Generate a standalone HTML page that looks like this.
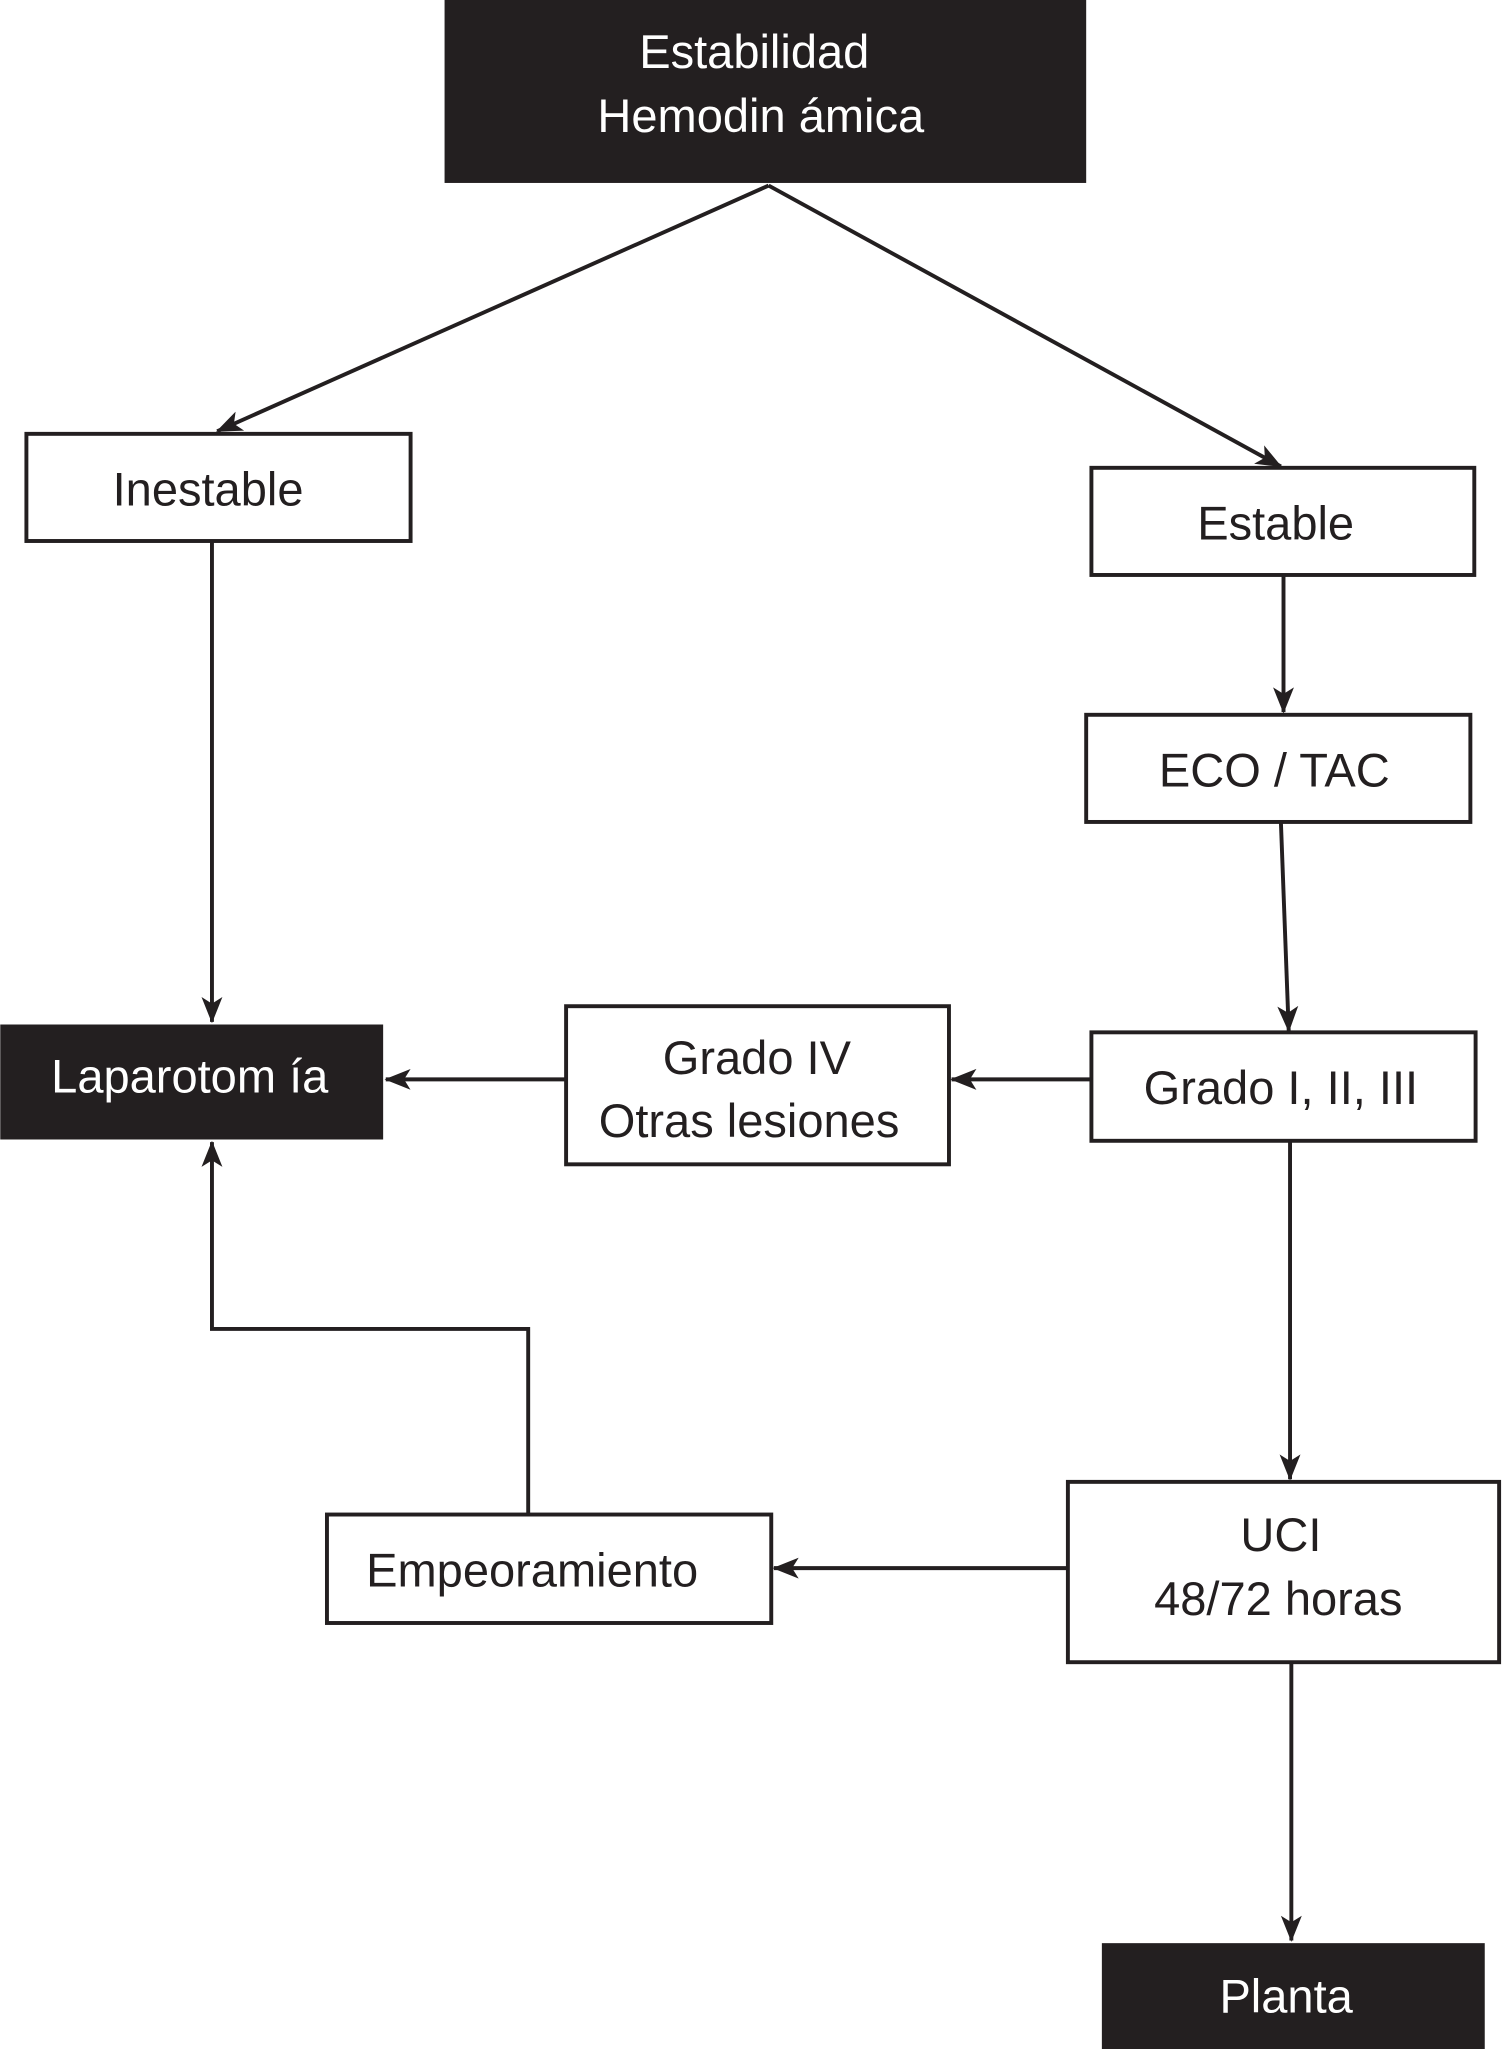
<!DOCTYPE html>
<html><head><meta charset="utf-8">
<style>
html,body{margin:0;padding:0;background:#fff;}
svg{display:block;}
text{font-family:"Liberation Sans",sans-serif;font-size:36px;text-anchor:middle;}
</style></head>
<body>
<svg width="1502" height="2049" viewBox="0 0 1149 1568" xmlns="http://www.w3.org/2000/svg">
<defs>
<marker id="a" viewBox="0 0 20 20" refX="19" refY="10" markerWidth="20" markerHeight="20" markerUnits="userSpaceOnUse" orient="auto">
<path d="M0,2 L20,10 L0,18 L5,10 Z" fill="#231f20"/>
</marker>
</defs>
<g fill="#231f20">
<rect x="340" y="0" width="491" height="140"/>
<rect x="0" y="784" width="293" height="88"/>
<rect x="843" y="1487" width="293" height="81"/>
</g>
<g fill="#fff" stroke="#231f20" stroke-width="3">
<rect x="20" y="332" width="294" height="82"/>
<rect x="835" y="358" width="293" height="82"/>
<rect x="831" y="547" width="294" height="82"/>
<rect x="433" y="770" width="293" height="121"/>
<rect x="835" y="790" width="294" height="83"/>
<rect x="250" y="1159" width="340" height="83"/>
<rect x="817" y="1134" width="330" height="138"/>
</g>
<g stroke="#231f20" stroke-width="3" fill="none" marker-end="url(#a)">
<line x1="588" y1="142" x2="166" y2="330"/>
<line x1="588" y1="142" x2="980" y2="357"/>
<line x1="162" y1="414" x2="162" y2="782"/>
<line x1="982" y1="440" x2="982" y2="545"/>
<line x1="980" y1="629" x2="986" y2="789"/>
<line x1="835" y1="826" x2="728" y2="826"/>
<line x1="433" y1="826" x2="295" y2="826"/>
<line x1="987" y1="873" x2="987" y2="1132"/>
<line x1="817" y1="1200" x2="592" y2="1200"/>
<polyline points="404,1159 404,1017 162,1017 162,874"/>
<line x1="988" y1="1272" x2="988" y2="1485"/>
</g>
<g fill="#fff">
<text x="577" y="52">Estabilidad</text>
<text x="582" y="101">Hemodin ámica</text>
<text x="145" y="836">Laparotom  ía</text>
<text x="984" y="1540">Planta</text>
</g>
<g fill="#231f20">
<text x="159" y="387">Inestable</text>
<text x="976" y="413">Estable</text>
<text x="975" y="602">ECO  / TAC</text>
<text x="579" y="822">Grado  IV</text>
<text x="573" y="870">Otras  lesiones</text>
<text x="980" y="845">Grado  I, II, III</text>
<text x="407" y="1214">Empeoramiento</text>
<text x="980" y="1187">UCI</text>
<text x="978" y="1236">48/72  horas</text>
</g>
</svg>
</body></html>
